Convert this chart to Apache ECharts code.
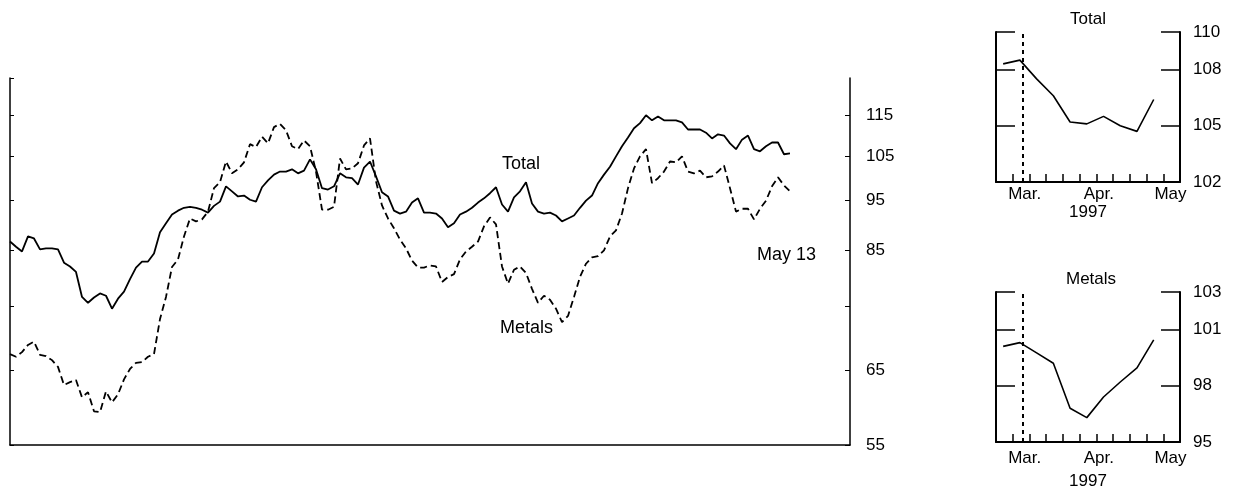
<!DOCTYPE html>
<html><head><meta charset="utf-8">
<script src="https://cdn.jsdelivr.net/npm/echarts@6/dist/echarts.min.js"></script>
<style>html,body{margin:0;padding:0;background:#fff}#c{width:1240px;height:491px}</style>
</head><body><div id="c"></div>
<script>
// ---- main chart data (weekly, ending May 13, 1997) ----
const mainStartDate = '1994-11-15';
const mainCategoryCount = 141;
const totalValues = [86.7,85.7,84.8,87.7,87.3,85.2,85.4,85.4,85.2,82.7,82.0,81.0,76.6,75.6,76.5,77.2,76.8,74.6,76.3,77.5,
79.7,81.8,82.9,82.9,84.4,88.5,90.3,92.1,92.9,93.5,93.7,93.5,93.1,92.5,93.9,94.8,98.1,97.0,95.9,96.1,
95.2,94.8,97.9,99.4,100.7,101.4,101.4,101.9,101.0,101.6,104.2,101.9,97.7,97.4,98.1,101.0,100.1,99.9,98.5,102.3,
103.7,100.3,96.8,95.9,92.9,92.3,92.7,94.6,95.5,92.5,92.5,92.3,91.3,89.5,90.3,92.1,92.7,93.5,94.6,95.5,
96.6,97.9,94.2,92.7,95.7,97.0,99.0,94.4,92.7,92.3,92.5,91.9,90.7,91.3,91.9,93.5,95.0,96.1,98.8,100.7,
102.5,104.9,107.3,109.4,111.7,113.0,115.0,113.7,114.7,113.7,113.7,113.7,113.2,111.4,111.4,111.4,110.6,109.2,110.2,109.9,
108.0,106.6,108.9,109.9,106.6,106.1,107.3,108.2,108.2,105.4,105.6];
const metalsValues = [67.4,67.0,67.7,68.8,69.3,67.3,67.1,66.5,65.5,62.9,63.3,63.6,61.2,61.9,59.3,59.2,62.0,60.5,61.6,63.7,
65.2,66.1,66.2,67.0,67.4,72.9,76.6,81.9,83.3,87.7,91.3,90.7,91.1,92.7,97.7,99.0,103.7,101.0,101.9,103.5,
107.8,107.1,109.6,108.0,112.0,112.8,111.2,107.3,106.6,108.7,107.3,101.4,93.1,93.1,93.7,104.4,101.9,102.1,103.3,107.5,
109.2,99.2,94.0,91.3,89.3,87.1,85.4,83.1,81.8,81.8,82.2,82.0,79.2,80.1,80.6,83.3,84.8,85.7,86.7,89.7,
91.5,90.1,82.0,78.9,81.4,82.0,80.8,78.0,75.6,76.8,76.1,74.6,72.4,73.4,76.6,80.1,82.5,83.7,83.9,85.0,
87.7,88.9,92.3,97.7,102.1,104.9,106.6,98.8,99.9,101.4,103.7,103.5,104.9,101.4,101.0,101.6,100.1,100.3,101.4,102.8,
97.7,92.7,93.3,93.3,91.1,93.3,95.0,98.1,100.1,98.3,97.0];
const mainTickValues = [55, 65, 75, 85, 95, 105, 115];
const mainLabelValues = [55, 65, 85, 95, 105, 115];
const mainMin = 55, mainMax = 125;

// ---- inset data (weekly, 1997) ----
const insetStartDate = '1997-02-17';
const insetDates = ['1997-02-20','1997-02-27','1997-03-06','1997-03-13','1997-03-20','1997-03-27','1997-04-03','1997-04-10','1997-04-17','1997-04-24'];
const insetTotal  = [108.3, 108.5, 107.5, 106.6, 105.2, 105.1, 105.5, 105.0, 104.7, 106.4];
const insetMetals = [100.1, 100.3, 99.75, 99.2, 96.8, 96.3, 97.4, 98.2, 98.95, 100.45];
const insetMarkerDate = '1997-02-28';
const monthStartDates = ['1997-03-01', '1997-04-01', '1997-05-01'];
const monthLabels = ['Mar.', 'Apr.', 'May'];
const insetYearLabel = '1997';
const totalInsetLabels = [102, 105, 108, 110];
const totalInsetTicks = [105, 108, 110];
const metalsInsetLabels = [95, 98, 101, 103];
const metalsInsetTicks = [98, 101, 103];

// ---- helpers ----
const DAY = 86400000;
const mainCategories = [];
for (let i = 0; i < mainCategoryCount; i++) {
  const d = new Date(Date.parse(mainStartDate) + i * 7 * DAY);
  mainCategories.push(d.toISOString().slice(0, 10));
}
const dayOf = d => Math.round((Date.parse(d) - Date.parse(insetStartDate)) / DAY);
const monthDays = monthStartDates.map(dayOf);

const FONT = 'Liberation Sans';
const black = '#000';

function insetX(gi, labelMargin, nameGap) {
  return {
    gridIndex: gi, type: 'value', min: 0, max: 77, interval: 7,
    axisLine: { show: true, onZero: false, lineStyle: { color: black, width: 2 } },
    axisTick: { show: true, inside: true, length: 8, lineStyle: { color: black, width: 1.5 } },
    axisLabel: {
      customValues: monthDays, color: black, fontSize: 17, fontFamily: FONT, margin: labelMargin,
      formatter: v => monthLabels[monthDays.indexOf(Math.round(v))] || ''
    },
    splitLine: { show: false },
    name: insetYearLabel, nameLocation: 'middle', nameGap: nameGap,
    nameTextStyle: { color: black, fontSize: 17, fontFamily: FONT }
  };
}
function insetY(gi, pos, min, max, ticks, labels) {
  return {
    gridIndex: gi, type: 'value', position: pos, min: min, max: max,
    axisLine: { show: true, onZero: false, lineStyle: { color: black, width: 2 } },
    axisTick: { show: true, inside: true, length: 19, customValues: ticks, lineStyle: { color: black, width: 1.5 } },
    axisLabel: labels ? { customValues: labels, color: black, fontSize: 17, fontFamily: FONT, margin: 13 } : { show: false },
    splitLine: { show: false }
  };
}
function insetSeries(xi, yi, vals) {
  return {
    type: 'line', xAxisIndex: xi, yAxisIndex: yi,
    data: insetDates.map((d, i) => [dayOf(d), vals[i]]),
    showSymbol: false, animation: false,
    lineStyle: { color: black, width: 1.6 },
    markLine: {
      silent: true, symbol: 'none', label: { show: false }, animation: false,
      lineStyle: { color: black, type: [4, 4], width: 2 },
      data: [{ xAxis: dayOf(insetMarkerDate) }]
    }
  };
}

const chart = echarts.init(document.getElementById('c'));
chart.setOption({
  backgroundColor: '#fff',
  animation: false,
  textStyle: { fontFamily: FONT },
  grid: [
    { left: 10, right: 390, top: 78, bottom: 46 },
    { left: 996, right: 60, top: 32, height: 150 },
    { left: 996, right: 60, top: 292, height: 150 }
  ],
  xAxis: [
    {
      gridIndex: 0, type: 'category', data: mainCategories, boundaryGap: false,
      axisLine: { show: true, lineStyle: { color: black, width: 1.5 } },
      axisTick: { show: false }, axisLabel: { show: false }, splitLine: { show: false }
    },
    insetX(1, 4, 22),
    insetX(2, 8, 31)
  ],
  yAxis: [
    {
      gridIndex: 0, type: 'log', logBase: 10, position: 'right', min: mainMin, max: mainMax,
      axisLine: { show: true, lineStyle: { color: black, width: 1.5 } },
      axisTick: { show: true, inside: true, length: 5, customValues: mainTickValues, lineStyle: { color: black, width: 1 } },
      axisLabel: { customValues: mainLabelValues, color: black, fontSize: 17, fontFamily: FONT, margin: 16 },
      splitLine: { show: false }
    },
    {
      gridIndex: 0, type: 'log', logBase: 10, position: 'left', min: mainMin, max: mainMax,
      axisLine: { show: true, lineStyle: { color: black, width: 1.5 } },
      axisTick: { show: true, inside: true, length: 4, customValues: mainTickValues.concat([mainMax]), lineStyle: { color: black, width: 1 } },
      axisLabel: { show: false }, splitLine: { show: false }
    },
    insetY(1, 'right', 102, 110, totalInsetTicks, totalInsetLabels),
    insetY(1, 'left', 102, 110, totalInsetTicks, null),
    insetY(2, 'right', 95, 103, metalsInsetTicks, metalsInsetLabels),
    insetY(2, 'left', 95, 103, metalsInsetTicks, null)
  ],
  series: [
    {
      name: 'Total', type: 'line', xAxisIndex: 0, yAxisIndex: 0, data: totalValues,
      showSymbol: false, lineStyle: { color: black, width: 1.8 }
    },
    {
      name: 'Metals', type: 'line', xAxisIndex: 0, yAxisIndex: 0, data: metalsValues,
      showSymbol: false, lineStyle: { color: black, width: 1.8, type: [7, 4] }
    },
    insetSeries(1, 2, insetTotal),
    insetSeries(2, 4, insetMetals)
  ],
  graphic: [
    { type: 'text', left: 502, top: 155, style: { text: 'Total', font: '18px "Liberation Sans"', fill: black } },
    { type: 'text', left: 500, top: 319, style: { text: 'Metals', font: '18px "Liberation Sans"', fill: black } },
    { type: 'text', left: 757, top: 246, style: { text: 'May 13', font: '18px "Liberation Sans"', fill: black } },
    { type: 'text', left: 1070, top: 11, style: { text: 'Total', font: '17px "Liberation Sans"', fill: black } },
    { type: 'text', left: 1066, top: 271, style: { text: 'Metals', font: '17px "Liberation Sans"', fill: black } }
  ]
});
</script>
</body></html>
